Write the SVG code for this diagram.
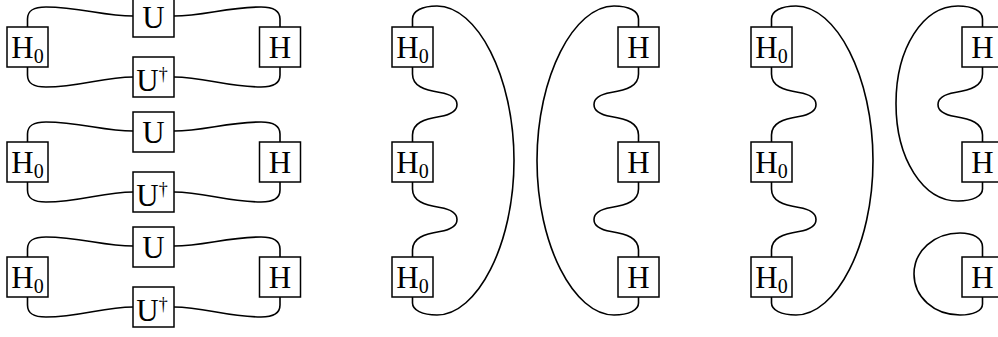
<svg xmlns="http://www.w3.org/2000/svg" width="998" height="337" viewBox="0 0 998 337">
<style>
.box{fill:#fff;stroke:#000;stroke-width:1.5}
.wire{fill:none;stroke:#000;stroke-width:1.6}
.lbl{font-family:"Liberation Serif","Times New Roman",serif;font-size:31px;fill:#000;text-anchor:middle}
.sub{font-size:20px}
.sup{font-size:18px}
</style>
<rect width="998" height="337" fill="#fff"/>
<g id="connectors">
<path class="wire" d="M27.5,27 V19 C27.5,10 34,7 46,7 C80,7 103,16 133,16"/>
<path class="wire" d="M174,16 C204,16 227,7 261,7 C273,7 280,10 280,19 V27"/>
<path class="wire" d="M27.5,67 V75 C27.5,84 34,87 46,87 C80,87 103,77 133,77"/>
<path class="wire" d="M174,77 C204,77 227,87 261,87 C273,87 280,84 280,75 V67"/>
<path class="wire" d="M27.5,142 V134 C27.5,125 34,122 46,122 C80,122 103,131 133,131"/>
<path class="wire" d="M174,131 C204,131 227,122 261,122 C273,122 280,125 280,134 V142"/>
<path class="wire" d="M27.5,182 V190 C27.5,199 34,202 46,202 C80,202 103,192 133,192"/>
<path class="wire" d="M174,192 C204,192 227,202 261,202 C273,202 280,199 280,190 V182"/>
<path class="wire" d="M27.5,257 V249 C27.5,240 34,237 46,237 C80,237 103,246 133,246"/>
<path class="wire" d="M174,246 C204,246 227,237 261,237 C273,237 280,240 280,249 V257"/>
<path class="wire" d="M27.5,297 V305 C27.5,314 34,317 46,317 C80,317 103,307 133,307"/>
<path class="wire" d="M174,307 C204,307 227,317 261,317 C273,317 280,314 280,305 V297"/>
<path class="wire" d="M412.5,27 V19 C412.5,11 422,6 437,6 C477,6 514,76 514,160.5 C514,245 477,315 437,315 C422,315 412.5,310 412.5,303 V297"/>
<path class="wire" d="M412.5,67 V74 C412.5,86 424,90 440,92.5 C452,94.5 457,99 457,104.5 C457,110 452,114.5 440,116.5 C424,119 412.5,123 412.5,135 V142"/>
<path class="wire" d="M412.5,182 V189 C412.5,201 424,205 440,207.5 C452,209.5 457,214 457,219.5 C457,225 452,229.5 440,231.5 C424,234 412.5,238 412.5,250 V257"/>
<path class="wire" d="M638.5,27 V19 C638.5,11 629,6 614,6 C574,6 537,76 537,160.5 C537,245 574,315 614,315 C629,315 638.5,310 638.5,303 V297"/>
<path class="wire" d="M638.5,67 V74 C638.5,86 627,90 611,92.5 C599,94.5 594,99 594,104.5 C594,110 599,114.5 611,116.5 C627,119 638.5,123 638.5,135 V142"/>
<path class="wire" d="M638.5,182 V189 C638.5,201 627,205 611,207.5 C599,209.5 594,214 594,219.5 C594,225 599,229.5 611,231.5 C627,234 638.5,238 638.5,250 V257"/>
<path class="wire" d="M771.5,27 V19 C771.5,11 781,6 796,6 C836,6 873,76 873,160.5 C873,245 836,315 796,315 C781,315 771.5,310 771.5,303 V297"/>
<path class="wire" d="M771.5,67 V74 C771.5,86 783,90 799,92.5 C811,94.5 816,99 816,104.5 C816,110 811,114.5 799,116.5 C783,119 771.5,123 771.5,135 V142"/>
<path class="wire" d="M771.5,182 V189 C771.5,201 783,205 799,207.5 C811,209.5 816,214 816,219.5 C816,225 811,229.5 799,231.5 C783,234 771.5,238 771.5,250 V257"/>
<path class="wire" d="M982.5,27 V19 C982.5,11 973,6 958,6 C923,6 896,48 896,103.5 C896,159 923,201 958,201 C973,201 982.5,196 982.5,189 V182"/>
<path class="wire" d="M982.5,67 V74 C982.5,86 971,90 955,92.5 C943,94.5 938,99 938,104.5 C938,110 943,114.5 955,116.5 C971,119 982.5,123 982.5,135 V142"/>
<path class="wire" d="M982.5,257 V247 C982.5,238 973,233 960,233 C934,233 914,251 914,274 C914,297 934,315 960,315 C973,315 982.5,311 982.5,304 V297"/>
</g>
<g id="p1-r1-H0"><rect class="box" x="7" y="27" width="41" height="40"/><text class="lbl" x="27.5" y="57.5">H<tspan class="sub" dy="5">0</tspan></text></g>
<g id="p1-r1-U"><rect class="box" x="133" y="-3" width="41" height="40"/><text class="lbl" x="153.5" y="27.5">U</text></g>
<g id="p1-r1-Ud"><rect class="box" x="133" y="57" width="41" height="40"/><text class="lbl" x="152" y="90.5">U<tspan class="sup" dy="-11">†</tspan></text></g>
<g id="p1-r1-H"><rect class="box" x="259.5" y="27" width="41" height="40"/><text class="lbl" x="280" y="57.5">H</text></g>
<g id="p1-r2-H0"><rect class="box" x="7" y="142" width="41" height="40"/><text class="lbl" x="27.5" y="172.5">H<tspan class="sub" dy="5">0</tspan></text></g>
<g id="p1-r2-U"><rect class="box" x="133" y="112" width="41" height="40"/><text class="lbl" x="153.5" y="142.5">U</text></g>
<g id="p1-r2-Ud"><rect class="box" x="133" y="172" width="41" height="40"/><text class="lbl" x="152" y="205.5">U<tspan class="sup" dy="-11">†</tspan></text></g>
<g id="p1-r2-H"><rect class="box" x="259.5" y="142" width="41" height="40"/><text class="lbl" x="280" y="172.5">H</text></g>
<g id="p1-r3-H0"><rect class="box" x="7" y="257" width="41" height="40"/><text class="lbl" x="27.5" y="287.5">H<tspan class="sub" dy="5">0</tspan></text></g>
<g id="p1-r3-U"><rect class="box" x="133" y="227" width="41" height="40"/><text class="lbl" x="153.5" y="257.5">U</text></g>
<g id="p1-r3-Ud"><rect class="box" x="133" y="287" width="41" height="40"/><text class="lbl" x="152" y="320.5">U<tspan class="sup" dy="-11">†</tspan></text></g>
<g id="p1-r3-H"><rect class="box" x="259.5" y="257" width="41" height="40"/><text class="lbl" x="280" y="287.5">H</text></g>
<g id="p2-r1-H0"><rect class="box" x="392" y="27" width="41" height="40"/><text class="lbl" x="412.5" y="57.5">H<tspan class="sub" dy="5">0</tspan></text></g>
<g id="p2-r2-H0"><rect class="box" x="392" y="142" width="41" height="40"/><text class="lbl" x="412.5" y="172.5">H<tspan class="sub" dy="5">0</tspan></text></g>
<g id="p2-r3-H0"><rect class="box" x="392" y="257" width="41" height="40"/><text class="lbl" x="412.5" y="287.5">H<tspan class="sub" dy="5">0</tspan></text></g>
<g id="p2-r1-H"><rect class="box" x="618" y="27" width="41" height="40"/><text class="lbl" x="638.5" y="57.5">H</text></g>
<g id="p2-r2-H"><rect class="box" x="618" y="142" width="41" height="40"/><text class="lbl" x="638.5" y="172.5">H</text></g>
<g id="p2-r3-H"><rect class="box" x="618" y="257" width="41" height="40"/><text class="lbl" x="638.5" y="287.5">H</text></g>
<g id="p3-r1-H0"><rect class="box" x="751" y="27" width="41" height="40"/><text class="lbl" x="771.5" y="57.5">H<tspan class="sub" dy="5">0</tspan></text></g>
<g id="p3-r2-H0"><rect class="box" x="751" y="142" width="41" height="40"/><text class="lbl" x="771.5" y="172.5">H<tspan class="sub" dy="5">0</tspan></text></g>
<g id="p3-r3-H0"><rect class="box" x="751" y="257" width="41" height="40"/><text class="lbl" x="771.5" y="287.5">H<tspan class="sub" dy="5">0</tspan></text></g>
<g id="p3-r1-H"><rect class="box" x="962" y="27" width="41" height="40"/><text class="lbl" x="982.5" y="57.5">H</text></g>
<g id="p3-r2-H"><rect class="box" x="962" y="142" width="41" height="40"/><text class="lbl" x="982.5" y="172.5">H</text></g>
<g id="p3-r3-H"><rect class="box" x="962" y="257" width="41" height="40"/><text class="lbl" x="982.5" y="287.5">H</text></g>
</svg>
